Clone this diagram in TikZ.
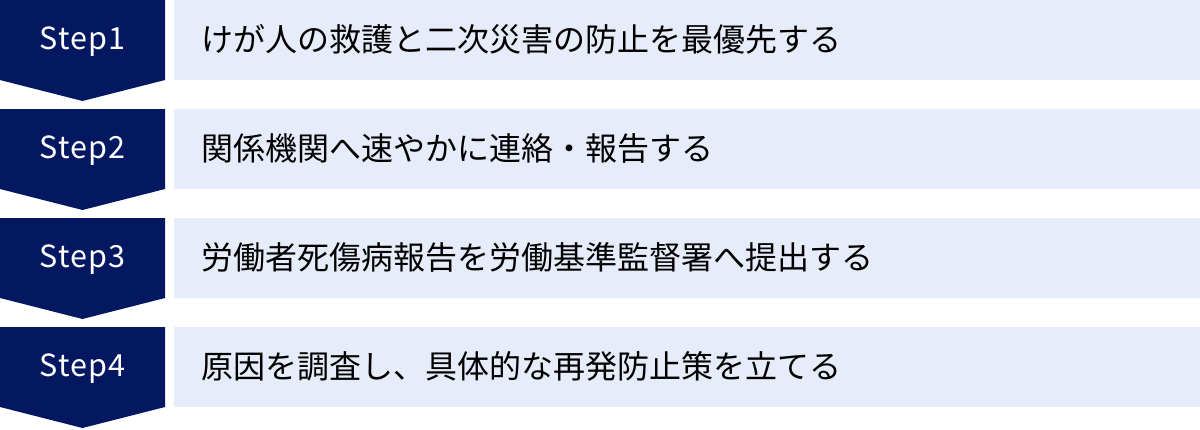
\documentclass[tikz,border=0pt]{standalone}
\usepackage{fontspec}
\newfontfamily\jpfont{Noto Sans CJK JP}
\newfontfamily\stepfont[LetterSpace=4]{Noto Sans CJK JP}
\definecolor{stepnavy}{HTML}{041862}
\definecolor{taskblue}{HTML}{E6ECF9}
\tikzset{
  stepfill/.style={fill=stepnavy},
  taskfill/.style={fill=taskblue},
  steplabel/.style={text=white,inner sep=0pt,font=\stepfont\fontsize{30.5}{36}\selectfont},
  tasklabel/.style={text=black,anchor=west,inner sep=0pt,font=\jpfont\fontsize{32}{38}\selectfont}
}
\begin{document}
\begin{tikzpicture}[x=1pt,y=-1pt]

\useasboundingbox (0,0) rectangle (1200,429);

\foreach \i/\t in {1/けが人の救護と二次災害の防止を最優先する,
                   2/関係機関へ速やかに連絡・報告する,
                   3/労働者死傷病報告を労働基準監督署へ提出する,
                   4/原因を調査し、具体的な再発防止策を立てる} {
  \pgfmathsetmacro\top{(\i-1)*109}
  \fill[stepfill] (0,\top) -- (165,\top) -- (165,\top+80) -- (82.5,\top+101) -- (0,\top+80) -- cycle;
  \node[steplabel] (step\i) at (82.5,\top+42) {Step\i};
  \fill[taskfill] (174,\top) rectangle (1200,\top+80);
  \node[tasklabel] (task\i) at (201,\top+39) {\t};
}

\end{tikzpicture}
\end{document}
